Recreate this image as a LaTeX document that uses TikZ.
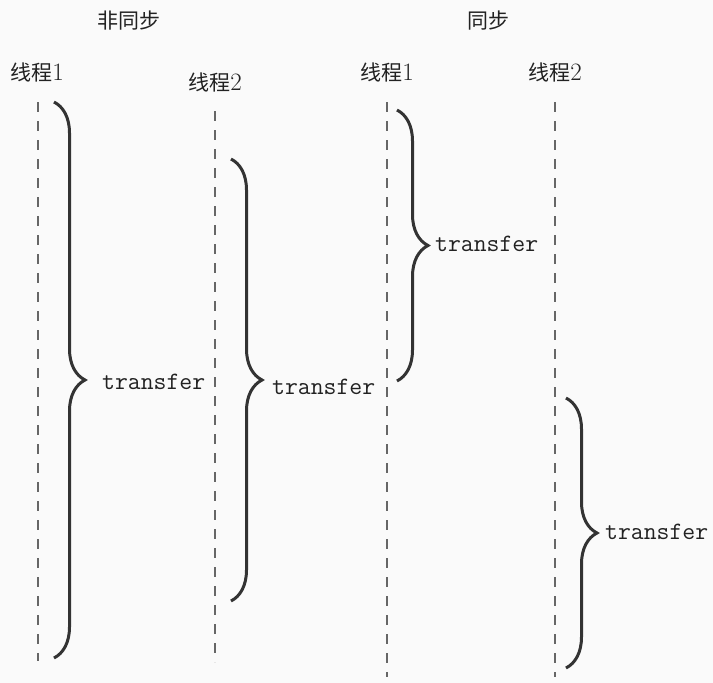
\documentclass[tikz,border=0pt]{standalone}
\usepackage{fontspec}
\newfontfamily\cjk{Noto Sans CJK SC}
\usepackage{xcolor}
\usetikzlibrary{decorations.pathreplacing,positioning}
\definecolor{bgc}{HTML}{FAFAFA}
\definecolor{lifec}{HTML}{666666}
\definecolor{bracec}{HTML}{333333}
\definecolor{inkc}{HTML}{222222}

\begin{document}
\begin{tikzpicture}[
  x=1pt, y=-1pt,
  title/.style={font=\fontsize{21}{21}\selectfont\cjk, text=inkc, inner sep=0pt},
  thread/.style={font=\fontsize{25}{25}\selectfont, text=inkc, inner sep=0pt},
  life/.style={draw=lifec, line width=1.5pt, dash pattern=on 10pt off 9pt},
  curly/.style={draw=bracec, line width=3pt, decorate, decoration={brace, amplitude=31pt}},
  lbl/.style={font=\fontsize{25}{25}\selectfont\ttfamily, text=inkc, inner sep=0pt, anchor=west}
]
\fill[bgc] (0,0) rectangle (713,683);
\useasboundingbox (0,0) rectangle (713,683);

% titles
\node[title] (async) at (129,21) {非同步};
\node[title] (sync) at (488,21) {同步};

% thread heads
\node[thread] (a1) at (37,72) {{\fontsize{21}{21}\selectfont\cjk 线程}1};
\node[thread] (a2) at (215,82) {{\fontsize{21}{21}\selectfont\cjk 线程}2};
\node[thread] (s1) at (387,72) {{\fontsize{21}{21}\selectfont\cjk 线程}1};
\node[thread] (s2) at (555,72) {{\fontsize{21}{21}\selectfont\cjk 线程}2};

% lifelines
\coordinate (a1top) at (38,102);  \coordinate (a1end) at (38,661);
\coordinate (a2top) at (215,111); \coordinate (a2end) at (215,662);
\coordinate (s1top) at (387,102); \coordinate (s1end) at (387,677);
\coordinate (s2top) at (555,102); \coordinate (s2end) at (555,677);
\draw[life] (a1top) -- (a1end);
\draw[life] (a2top) -- (a2end);
\draw[life] (s1top) -- (s1end);
\draw[life] (s2top) -- (s2end);

% transfer spans
\coordinate (b1a) at (54,102);  \coordinate (b1b) at (54,658);
\coordinate (b2a) at (231,159); \coordinate (b2b) at (231,601);
\coordinate (b3a) at (397,110); \coordinate (b3b) at (397,381);
\coordinate (b4a) at (566,398); \coordinate (b4b) at (566,668);
\draw[curly] (b1a) -- (b1b);
\draw[curly] (b2a) -- (b2b);
\draw[curly] (b3a) -- (b3b);
\draw[curly] (b4a) -- (b4b);

\node[lbl] (t1) at (102,382) {transfer};
\node[lbl] (t2) at (272,387) {transfer};
\node[lbl] (t3) at (435,244) {transfer};
\node[lbl] (t4) at (605,532) {transfer};
\end{tikzpicture}
\end{document}
